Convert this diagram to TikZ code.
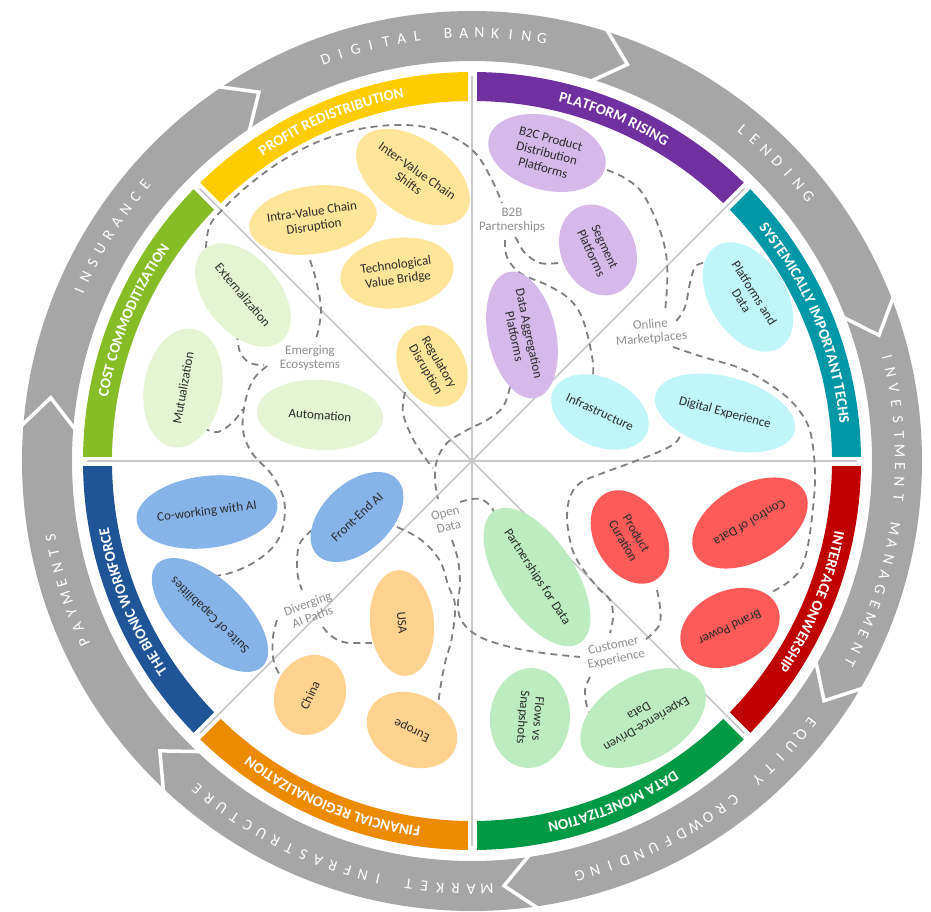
\documentclass[tikz,border=0pt]{standalone}
\usepackage{fontspec}
\setmainfont{Carlito}
\usetikzlibrary{shapes.geometric,decorations.text}

\definecolor{ringgrey}{HTML}{A6A6A6}
\definecolor{linegrey}{HTML}{C8C8C8}
\definecolor{dashgrey}{HTML}{7F7F7F}
\definecolor{notegrey}{HTML}{8F8F8F}
\definecolor{inktext}{HTML}{2B2B2B}
\definecolor{profit}{HTML}{FFCC00}
\definecolor{profitlight}{HTML}{FFE599}
\definecolor{platform}{HTML}{7030A0}
\definecolor{platformlight}{HTML}{D6B9E8}
\definecolor{systemic}{HTML}{0097A7}
\definecolor{systemiclight}{HTML}{C0F5FA}
\definecolor{interface}{HTML}{C00000}
\definecolor{interfacelight}{HTML}{FF5A5A}
\definecolor{datamon}{HTML}{009A44}
\definecolor{datamonlight}{HTML}{BCECBF}
\definecolor{regional}{HTML}{EC8A00}
\definecolor{regionallight}{HTML}{FFD28F}
\definecolor{bionic}{HTML}{1F5596}
\definecolor{bioniclight}{HTML}{86B4E8}
\definecolor{costcom}{HTML}{86BC25}
\definecolor{costcomlight}{HTML}{E5F5D3}

\tikzset{
  bubble/.style={ellipse, inner sep=0pt, align=center, text=inktext, font=\fontsize{13}{15}\selectfont},
  note/.style={align=center, text=notegrey, font=\fontsize{13}{14}\selectfont},
  dashpath/.style={draw=dashgrey, line width=1.8pt, dash pattern=on 7pt off 5pt},
  divider/.style={draw=linegrey, line width=1.6pt},
  ringletter/.style={anchor=base, inner sep=0pt, text=white, font=\fontsize{15.5}{15.5}\selectfont},
}

% coloured band of one theme, label set clockwise
\newcommand\themeband[3]{%
  \fill[#2] (#1:360) arc[start angle=#1, end angle=#1+45, radius=360]
    -- (#1+45:389) arc[start angle=#1+45, end angle=#1, radius=389] -- cycle;
  \path[decorate, decoration={text along path, text align=center, text color=white,
    text={|\bfseries\fontsize{15}{15}\selectfont|#3}}]
    (#1+45:369.5) arc[start angle=#1+45, end angle=#1, radius=369.5];
}
% spaced letters in the outer ring
\newcommand\ringlabel[2]{%
  \foreach \ch [count=\k from 0] in {#2}{
    \pgfmathsetmacro\ang{#1-2.1*\k}
    \node[ringletter, rotate=\ang-90] at (\ang:423) {\ch};
  }
}

\begin{document}
\begin{tikzpicture}[x=1pt, y=1pt]
  \useasboundingbox (-472,-450) rectangle (459,461);

  % outer ring of arrows
  \fill[ringgrey, even odd rule] (0,0) circle[radius=450] circle[radius=400];
  \foreach \a in {68.6,17.17,-34.26,-85.69,-137.12,-188.55,-239.98}
    \draw[white, line width=3.5pt] (\a+4.5:455) -- (\a:426) -- (\a+4.5:395);
  \ringlabel{110}{D,I,G,I,T,A,L,{},B,A,N,K,I,N,G}
  \ringlabel{50.8}{L,E,N,D,I,N,G}
  \ringlabel{14}{I,N,V,E,S,T,M,E,N,T,{},M,A,N,A,G,E,M,E,N,T}
  \ringlabel{-37.6}{E,Q,U,I,T,Y,{},C,R,O,W,D,F,U,N,D,I,N,G}
  \ringlabel{-88}{M,A,R,K,E,T,{},I,N,F,R,A,S,T,R,U,C,T,U,R,E}
  \ringlabel{-155}{P,A,Y,M,E,N,T,S}
  \ringlabel{156.6}{I,N,S,U,R,A,N,C,E}

  % theme bands
  \themeband{90}{profit}{PROFIT REDISTRIBUTION}
  \themeband{45}{platform}{PLATFORM RISING}
  \themeband{0}{systemic}{SYSTEMICALLY IMPORTANT TECHS}
  \themeband{-45}{interface}{INTERFACE ONWERSHIP}
  \themeband{-90}{datamon}{DATA MONETIZATION}
  \themeband{-135}{regional}{FINANCIAL REGIONALIZATION}
  \themeband{180}{bionic}{THE BIONIC WORKFORCE}
  \themeband{135}{costcom}{COST COMMODITIZATION}
  \foreach \a in {0,45,...,315}
    \draw[white, line width=9pt] (\a:352) -- (\a:396);
  \foreach \a in {0,45,...,315}
    \draw[divider] (0,0) -- (\a:385);

  % dashed groupings
  \draw[dashpath] plot[smooth, tension=0.6] coordinates {(-266,213) (-262,236) (-245,256) (-222,277) (-192,299) (-157,318) (-117,331) (-77,336) (-42,333) (-14,321) (5,306) (20,281) (30,258)};
  \draw[dashpath] plot[smooth, tension=0.6] coordinates {(-162,201) (-156,181) (-151,154) (-153,134) (-157,119)};
  \draw[dashpath] plot[smooth, tension=0.6] coordinates {(-235,128) (-232,109) (-222,98) (-208,96)};
  \draw[dashpath] plot[smooth, tension=0.6] coordinates {(-205,95) (-219,81) (-227,58) (-229,31) (-220,8) (-200,-14) (-188,-39) (-189,-66) (-199,-86) (-219,-102) (-242,-112) (-264,-116)};
  \draw[dashpath] plot[smooth, tension=0.6] coordinates {(-269,33) (-254,29) (-239,39) (-229,52)};
  \draw[dashpath] plot[smooth, tension=0.6] coordinates {(-67,69) (-69,48) (-60,24) (-49,6) (-39,-7)};
  \draw[dashpath] plot[smooth, tension=0.6] coordinates {(38,74) (31,54) (15,41) (-5,31) (-25,18) (-35,1) (-37,-19) (-34,-38)};
  \draw[dashpath] plot[smooth, tension=0.6] coordinates {(-12,-41) (0,-38) (11,-39) (20,-47) (23,-54)};
  \draw[dashpath] plot[smooth, tension=0.6] coordinates {(-20,-79) (-14,-99) (-12,-122) (-14,-146) (-9,-162) (8,-176) (38,-186) (71,-192) (108,-196)};
  \draw[dashpath] plot[smooth, tension=0.6] coordinates {(-75,-66) (-55,-76) (-40,-89) (-30,-104) (-24,-124) (-17,-144) (-20,-176) (-27,-202) (-32,-229) (-34,-247)};
  \draw[dashpath] plot[smooth, tension=0.6] coordinates {(-160,-69) (-172,-82) (-175,-99) (-174,-116) (-170,-129)};
  \draw[dashpath] plot[smooth, tension=0.6] coordinates {(-149,-166) (-142,-174) (-129,-181) (-112,-182) (-100,-182)};
  \draw[dashpath] plot[smooth, tension=0.6] coordinates {(-195,-159) (-199,-176) (-199,-196) (-195,-209) (-190,-216)};
  \draw[dashpath] plot[smooth, tension=0.6] coordinates {(135,291) (151,284) (168,271) (181,248) (191,221) (195,198) (195,174) (193,149)};
  \draw[dashpath] plot[smooth, tension=0.6] coordinates {(86,198) (68,198) (53,208) (45,221) (42,226)};
  \draw[dashpath] plot[smooth, tension=0.6] coordinates {(33,221) (35,204) (48,188) (75,176) (95,164) (108,148) (116,124) (121,98) (121,86)};
  \draw[dashpath] plot[smooth, tension=0.6] coordinates {(231,198) (223,194) (218,178) (213,154) (205,141) (200,139)};
  \draw[dashpath] plot[smooth, tension=0.6] coordinates {(201,114) (231,104) (265,94) (291,81) (318,61) (335,38) (341,14) (343,-19) (340,-56) (335,-89) (328,-109) (315,-122) (298,-132)};
  \draw[dashpath] plot[smooth, tension=0.6] coordinates {(210,36) (206,21) (191,11) (161,-1) (131,-12) (108,-22) (98,-36) (95,-56) (98,-79) (105,-99) (125,-126) (138,-139) (141,-156) (138,-172)};
  \draw[dashpath] plot[smooth, tension=0.6] coordinates {(185,-129) (188,-146) (188,-162) (181,-172) (173,-179)};
  \draw[dashpath] plot[smooth, tension=0.6] coordinates {(118,-216) (113,-229) (115,-246) (120,-256)};

  % grouping notes
  \node[note] (btob) at (40,241) {B2B\\Partnerships};
  \node[note, rotate=5] (marketplaces) at (179,129) {Online\\Marketplaces};
  \node[note] (ecosystems) at (-162,103) {Emerging\\Ecosystems};
  \node[note, rotate=15] (opendata) at (-25,-59) {Open\\Data};
  \node[note, rotate=20] (aipaths) at (-162,-149) {Diverging\\AI Paths};
  \node[note, rotate=12] (custexp) at (143,-192) {Customer\\Experience};

  % profit redistribution
  \node[bubble, fill=profitlight, minimum width=126pt, minimum height=76pt, rotate=-35] (intervalue) at (-59,284) {Inter-Value Chain\\Shifts};
  \node[bubble, fill=profitlight, minimum width=112pt, minimum height=68pt, rotate=8] (intravalue) at (-159,241) {Intra-Value Chain\\Disruption};
  \node[bubble, fill=profitlight, minimum width=114pt, minimum height=70pt, rotate=8] (techbridge) at (-75,188) {Technological\\Value Bridge};
  \node[bubble, fill=profitlight, minimum width=86pt, minimum height=66pt, rotate=-60] (regulatory) at (-40,95) {Regulatory\\Disruption};
  % cost commoditization
  \node[bubble, fill=costcomlight, minimum width=120pt, minimum height=74pt, rotate=-50] (external) at (-229,166) {Externalization};
  \node[bubble, fill=costcomlight, minimum width=120pt, minimum height=78pt, rotate=80] (mutual) at (-289,73) {Mutualization};
  \node[bubble, fill=costcomlight, minimum width=126pt, minimum height=70pt, rotate=-4] (automation) at (-152,46) {Automation};
  % platform rising
  \node[bubble, fill=platformlight, minimum width=120pt, minimum height=74pt, rotate=-15] (btoc) at (75,308) {B2C Product\\Distribution\\Platforms};
  \node[bubble, fill=platformlight, minimum width=94pt, minimum height=74pt, rotate=-65] (segment) at (126,211) {Segment\\Platforms};
  \node[bubble, fill=platformlight, minimum width=114pt, minimum height=68pt, rotate=-78] (aggregation) at (50,126) {Data Aggregation\\Platforms};
  % systemically important techs
  \node[bubble, fill=systemiclight, minimum width=120pt, minimum height=76pt, rotate=-58] (platdata) at (276,164) {Platforms and\\Data};
  \node[bubble, fill=systemiclight, minimum width=94pt, minimum height=68pt, rotate=-25] (infra) at (128,49) {Infrastructure};
  \node[bubble, fill=systemiclight, minimum width=144pt, minimum height=72pt, rotate=-15] (digexp) at (253,48) {Digital Experience};
  % interface ownership
  \node[bubble, fill=interfacelight, minimum width=126pt, minimum height=76pt, rotate=210] (ctrldata) at (278,-62) {Control of Data};
  \node[bubble, fill=interfacelight, minimum width=100pt, minimum height=70pt, rotate=-60] (curation) at (158,-76) {Product\\Curation};
  \node[bubble, fill=interfacelight, minimum width=104pt, minimum height=74pt, rotate=205] (brand) at (258,-167) {Brand Power};
  % data monetization
  \node[bubble, fill=datamonlight, minimum width=140pt, minimum height=76pt, rotate=-57] (partners) at (65,-116) {Partnerships for Data};
  \node[bubble, fill=datamonlight, minimum width=100pt, minimum height=80pt, rotate=-95] (flows) at (58,-257) {Flows vs\\Snapshots};
  \node[bubble, fill=datamonlight, minimum width=116pt, minimum height=84pt, rotate=210] (expdriven) at (171,-257) {Experience-Driven\\Data};
  % financial regionalization
  \node[bubble, fill=regionallight, minimum width=106pt, minimum height=64pt, rotate=-85] (usa) at (-70,-162) {USA};
  \node[bubble, fill=regionallight, minimum width=82pt, minimum height=70pt, rotate=65] (china) at (-162,-234) {China};
  \node[bubble, fill=regionallight, minimum width=94pt, minimum height=72pt, rotate=155] (europe) at (-60,-269) {Europe};
  % bionic workforce
  \node[bubble, fill=bioniclight, minimum width=120pt, minimum height=72pt, rotate=7] (cowork) at (-265,-51) {Co-working with AI};
  \node[bubble, fill=bioniclight, minimum width=126pt, minimum height=70pt, rotate=136] (suite) at (-262,-154) {Suite of Capabilities};
  \node[bubble, fill=bioniclight, minimum width=110pt, minimum height=68pt, rotate=43] (frontend) at (-115,-56) {Front-End AI};
\end{tikzpicture}
\end{document}
